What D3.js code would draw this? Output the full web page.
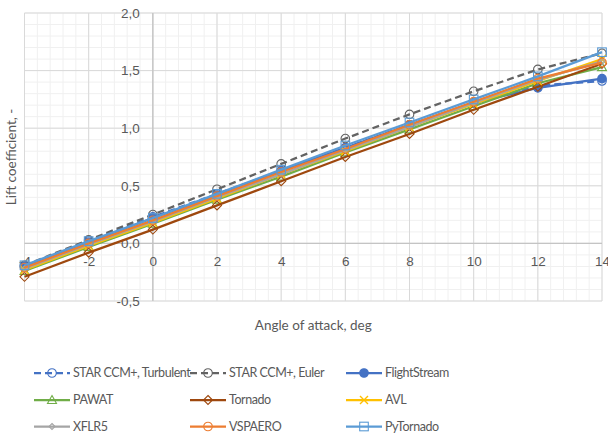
<!DOCTYPE html>
<html>
<head>
<meta charset="utf-8">
<script src="https://cdnjs.cloudflare.com/ajax/libs/d3/7.8.5/d3.min.js"></script>
<style>
  body { margin: 0; background: #fff; }
  svg { font-family: Lato, "Open Sans", sans-serif; }
  .tick text { fill: #595959; font-size: 13.5px; }
  .title { fill: #595959; font-size: 13.5px; }
  .legend text { fill: #595959; font-size: 12.5px; letter-spacing: -0.45px; }
</style>
</head>
<body>
<svg width="608" height="436"></svg>
<script>
// angle of attack, deg
var alpha = [-4, -2, 0, 2, 4, 6, 8, 10, 12, 14];

var starTurb   = [-0.20, 0.02, 0.23, 0.43, 0.63, 0.83, 1.03, 1.22, 1.37, 1.41];
var starEuler  = [-0.19, 0.03, 0.25, 0.47, 0.69, 0.91, 1.12, 1.32, 1.51, 1.65];
var flightStr  = [-0.20, 0.01, 0.22, 0.42, 0.63, 0.83, 1.03, 1.22, 1.35, 1.43];
var pawat      = [-0.24, -0.03, 0.17, 0.38, 0.58, 0.79, 0.99, 1.19, 1.39, 1.53];
var tornado    = [-0.29, -0.08, 0.12, 0.33, 0.54, 0.75, 0.95, 1.16, 1.36, 1.56];
var avl        = [-0.23, -0.02, 0.18, 0.39, 0.60, 0.80, 1.01, 1.21, 1.41, 1.60];
var xflr5      = [-0.22, -0.01, 0.19, 0.40, 0.60, 0.81, 1.01, 1.22, 1.42, 1.58];
var vspaero    = [-0.21, 0.00, 0.20, 0.41, 0.62, 0.82, 1.03, 1.23, 1.43, 1.57];
var pyTornado  = [-0.19, 0.02, 0.22, 0.43, 0.64, 0.85, 1.05, 1.25, 1.45, 1.66];

var xTicks = [-4, -2, 0, 2, 4, 6, 8, 10, 12, 14];
var yTicks = [-0.5, 0, 0.5, 1.0, 1.5, 2.0];

var series = [
  {name: "STAR CCM+, Turbulent", values: starTurb,  color: "#4472c4", dash: "7,4", marker: "circle"},
  {name: "STAR CCM+, Euler",     values: starEuler, color: "#636363", dash: "7,4", marker: "circle"},
  {name: "FlightStream",         values: flightStr, color: "#4472c4", dash: null,  marker: "dot"},
  {name: "PAWAT",                values: pawat,     color: "#70ad47", dash: null,  marker: "triangle"},
  {name: "Tornado",              values: tornado,   color: "#9e480e", dash: null,  marker: "diamond"},
  {name: "AVL",                  values: avl,       color: "#ffc000", dash: null,  marker: "x"},
  {name: "XFLR5",                values: xflr5,     color: "#a5a5a5", dash: null,  marker: "smalldiamond"},
  {name: "VSPAERO",              values: vspaero,   color: "#ed7d31", dash: null,  marker: "circle"},
  {name: "PyTornado",            values: pyTornado, color: "#5b9bd5", dash: null,  marker: "square"}
];

var svg = d3.select("svg");
var plotL = 24.5, plotR = 602, plotT = 13, plotB = 301;

var x = d3.scaleLinear().domain([-4, 14]).range([plotL, plotR]);
var y = d3.scaleLinear().domain([-0.5, 2.0]).range([plotB, plotT]);

var loc = d3.formatLocale({decimal: ",", thousands: ".", grouping: [3], currency: ["", ""], minus: "-"});
var fmtY = loc.format(".1f"), fmtX = loc.format("d");

// minor grid
var grid = svg.append("g");
grid.selectAll(".mx").data(d3.range(-4, 14.01, 0.4)).enter().append("line")
  .attr("x1", d => x(d)).attr("x2", d => x(d)).attr("y1", plotT).attr("y2", plotB)
  .attr("stroke", "#f0f0f0").attr("stroke-width", 1);
grid.selectAll(".my").data(d3.range(-0.5, 2.001, 0.1)).enter().append("line")
  .attr("y1", d => y(d)).attr("y2", d => y(d)).attr("x1", plotL).attr("x2", plotR)
  .attr("stroke", "#f0f0f0").attr("stroke-width", 1);
// major grid
grid.selectAll(".Mx").data(xTicks).enter().append("line")
  .attr("x1", d => x(d)).attr("x2", d => x(d)).attr("y1", plotT).attr("y2", plotB)
  .attr("stroke", "#d9d9d9").attr("stroke-width", 1);
grid.selectAll(".My").data(yTicks).enter().append("line")
  .attr("y1", d => y(d)).attr("y2", d => y(d)).attr("x1", plotL).attr("x2", plotR)
  .attr("stroke", "#d9d9d9").attr("stroke-width", 1);

// axes cross at zero
svg.append("line").attr("x1", plotL).attr("x2", plotR).attr("y1", y(0)).attr("y2", y(0))
  .attr("stroke", "#c4c4c4").attr("stroke-width", 1.3);
svg.append("line").attr("x1", x(0)).attr("x2", x(0)).attr("y1", plotT).attr("y2", plotB)
  .attr("stroke", "#c4c4c4").attr("stroke-width", 1.3);

var xAxis = svg.append("g").attr("transform", "translate(0," + (y(0) + 12) + ")")
  .call(d3.axisBottom(x).tickValues(xTicks).tickFormat(fmtX).tickSize(0).tickPadding(0));
xAxis.select(".domain").remove();
xAxis.selectAll("text").attr("dy", "0.75em");

var yAxis = svg.append("g").attr("transform", "translate(" + (x(0) - 13) + ",0)")
  .call(d3.axisLeft(y).tickValues(yTicks).tickFormat(fmtY).tickSize(0).tickPadding(0));
yAxis.select(".domain").remove();

// series
var line = d3.line().x((d, i) => x(alpha[i])).y(d => y(d));

function marker(g, type, color) {
  var p;
  if (type === "circle" || type === "dot") {
    p = g.append("circle").attr("r", 4.3);
  } else if (type === "triangle") {
    p = g.append("path").attr("d", "M0,-4.5L4.5,3.5L-4.5,3.5Z");
  } else if (type === "diamond") {
    p = g.append("path").attr("d", "M0,-4.5L4.5,0L0,4.5L-4.5,0Z");
  } else if (type === "smalldiamond") {
    p = g.append("path").attr("d", "M0,-3L3,0L0,3L-3,0Z");
  } else if (type === "x") {
    p = g.append("path").attr("d", "M-4,-4L4,4M-4,4L4,-4");
  } else {
    p = g.append("rect").attr("x", -4.3).attr("y", -4.3).attr("width", 8.6).attr("height", 8.6);
  }
  p.attr("stroke", color).attr("stroke-width", type === "x" ? 1.4 : 1.1)
    .attr("fill", type === "dot" ? color : "none");
}

series.forEach(function(s) {
  var g = svg.append("g");
  g.append("path").attr("d", line(s.values))
    .attr("fill", "none").attr("stroke", s.color).attr("stroke-width", 2.25)
    .attr("stroke-dasharray", s.dash);
  s.values.forEach(function(v, i) {
    var m = g.append("g").attr("transform", "translate(" + x(alpha[i]) + "," + y(v) + ")");
    marker(m, s.marker, s.color);
  });
});

// axis titles
svg.append("text").attr("class", "title")
  .attr("transform", "translate(16," + ((plotT + plotB) / 2) + ") rotate(-90)")
  .attr("text-anchor", "middle").text("Lift coefficient, -");
svg.append("text").attr("class", "title")
  .attr("x", (plotL + plotR) / 2).attr("y", 330)
  .attr("text-anchor", "middle").text("Angle of attack, deg");

// legend
var colX = [34, 190, 346], rowY = [373, 400, 426.5];
var legend = svg.append("g").attr("class", "legend");
series.forEach(function(s, i) {
  var g = legend.append("g")
    .attr("transform", "translate(" + colX[i % 3] + "," + rowY[Math.floor(i / 3)] + ")");
  g.append("line").attr("x1", 0).attr("x2", 36).attr("y1", 0).attr("y2", 0)
    .attr("stroke", s.color).attr("stroke-width", 2.25).attr("stroke-dasharray", s.dash);
  var m = g.append("g").attr("transform", "translate(18,0)");
  marker(m, s.marker, s.color);
  g.append("text").attr("x", 39).attr("y", 0).attr("dy", "0.35em").text(s.name);
});
</script>
</body>
</html>
